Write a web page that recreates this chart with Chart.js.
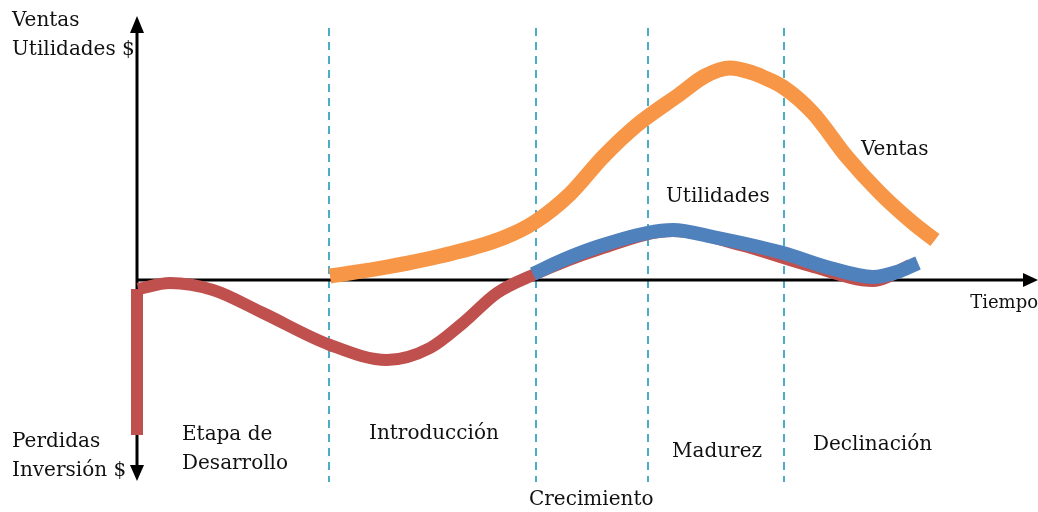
<!DOCTYPE html>
<html>
<head>
<meta charset="utf-8">
<script src="https://cdn.jsdelivr.net/npm/chart.js@4.4.1/dist/chart.umd.min.js"></script>
<style>
  html, body { margin: 0; padding: 0; background: #fff; }
  #wrap { width: 1038px; height: 512px; }
</style>
</head>
<body>
<div id="wrap"><canvas id="c" width="1038" height="512"></canvas></div>
<script>
// curves (x = tiempo, y = $), origin where the axes cross
const perdidasStemX = [0, 0];
const perdidasStemY = [-155, -9];
const perdidasX = [1, 33, 76, 126, 193, 250, 293, 326, 360, 396, 460, 536, 603, 673, 736, 773];
const perdidasY = [-9, -3, -10, -33, -65, -80, -68, -43, -13, 5, 30, 49, 35, 14, -1, 15];
const ventasX = [193, 250, 316, 366, 398, 433, 466, 500, 543, 568, 593, 613, 626, 646, 676, 710, 743, 776, 798];
const ventasY = [4, 13, 27, 42, 58, 86, 123, 155, 186, 204, 212, 208, 203, 193, 167, 123, 87, 57, 40];
const utilidadesX = [396, 426, 460, 510, 536, 576, 646, 693, 736, 760, 781];
const utilidadesY = [6, 20, 33, 47, 50, 43, 27, 12, 3, 8, 17];

// stage boundaries on the time axis
const stageBounds = [192, 399, 511, 647];

const toPts = (xs, ys) => xs.map((x, i) => ({ x: x, y: ys[i] }));

const FONT = '20px "DejaVu Serif"';

// text placed on the drawing, pixel positions
const texts = [
  ['Ventas', 12, 21], ['Utilidades $', 12, 50],
  ['Perdidas', 12, 442], ['Inversión $', 12, 471],
  ['Etapa de', 182, 435], ['Desarrollo', 182, 464],
  ['Introducción', 369, 434],
  ['Crecimiento', 529, 500],
  ['Madurez', 672, 452],
  ['Declinación', 813, 445],
  ['Ventas', 861, 150],
  ['Utilidades', 666, 197]
];

const axesPlugin = {
  id: 'axes',
  beforeDatasetsDraw(chart) {
    const ctx = chart.ctx;
    const sx = chart.scales.x, sy = chart.scales.y;
    const ox = sx.getPixelForValue(0), oy = sy.getPixelForValue(0);
    ctx.save();
    // dashed stage lines
    ctx.strokeStyle = '#4bacc6';
    ctx.lineWidth = 2;
    ctx.setLineDash([8, 6]);
    stageBounds.forEach(b => {
      const px = sx.getPixelForValue(b);
      ctx.beginPath();
      ctx.moveTo(px, 28);
      ctx.lineTo(px, 482);
      ctx.stroke();
    });
    ctx.setLineDash([]);
    // axes
    ctx.strokeStyle = '#000';
    ctx.fillStyle = '#000';
    ctx.lineWidth = 3;
    ctx.beginPath();
    ctx.moveTo(ox, 30); ctx.lineTo(ox, 468);
    ctx.moveTo(ox, oy); ctx.lineTo(1026, oy);
    ctx.stroke();
    ctx.beginPath();
    ctx.moveTo(ox, 16); ctx.lineTo(ox - 7, 33); ctx.lineTo(ox + 7, 33); ctx.closePath();
    ctx.moveTo(ox, 481); ctx.lineTo(ox - 7, 465); ctx.lineTo(ox + 7, 465); ctx.closePath();
    ctx.moveTo(1038, oy); ctx.lineTo(1023, oy - 7); ctx.lineTo(1023, oy + 7); ctx.closePath();
    ctx.fill();
    ctx.restore();
  },
  afterDraw(chart) {
    const ctx = chart.ctx;
    ctx.save();
    ctx.font = FONT;
    ctx.fillStyle = '#111';
    ctx.textBaseline = 'middle';
    ctx.textAlign = 'left';
    texts.forEach(t => ctx.fillText(t[0], t[1], t[2]));
    ctx.font = '18px "DejaVu Serif"';
    ctx.textAlign = 'right';
    ctx.fillText('Tiempo', 1038, 303);
    ctx.restore();
  }
};

new Chart(document.getElementById('c'), {
  type: 'line',
  data: {
    datasets: [
      {
        data: toPts(utilidadesX, utilidadesY),
        borderColor: '#4f81bd', borderWidth: 14,
        cubicInterpolationMode: 'monotone', order: 0
      },
      {
        data: toPts(ventasX, ventasY),
        borderColor: '#f79646', borderWidth: 15,
        cubicInterpolationMode: 'monotone', order: 1
      },
      {
        data: toPts(perdidasX, perdidasY),
        borderColor: '#c0504d', borderWidth: 12,
        cubicInterpolationMode: 'monotone', order: 2
      },
      {
        data: toPts(perdidasStemX, perdidasStemY),
        borderColor: '#c0504d', borderWidth: 12,
        tension: 0, order: 3
      }
    ]
  },
  options: {
    responsive: false,
    animation: false,
    events: [],
    layout: { padding: 0 },
    elements: { point: { radius: 0 } },
    plugins: { legend: { display: false }, tooltip: { enabled: false } },
    scales: {
      x: { type: 'linear', min: -137, max: 901, display: false },
      y: { type: 'linear', min: -232, max: 280, display: false }
    }
  },
  plugins: [axesPlugin]
});
</script>
</body>
</html>
